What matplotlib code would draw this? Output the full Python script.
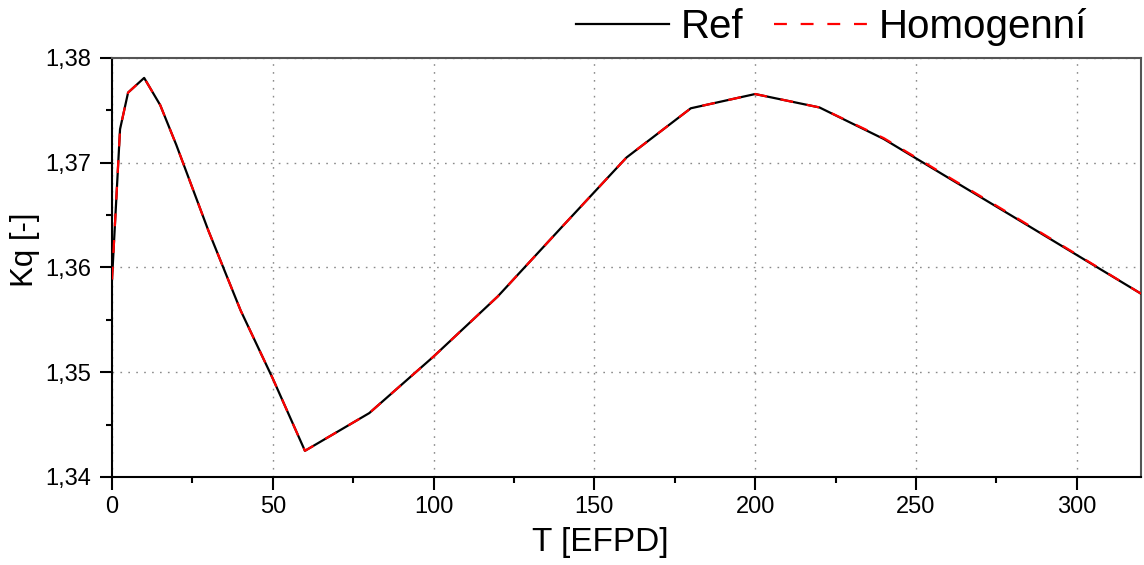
import matplotlib
matplotlib.use("Agg")
import matplotlib.pyplot as plt
from matplotlib.ticker import MultipleLocator, FixedLocator, FixedFormatter

plt.rcParams['font.family'] = ['Liberation Sans', 'DejaVu Sans']

# Data
t = [0, 2.5, 5, 10, 15, 20, 30, 40, 50, 60, 80, 100, 120, 140, 160, 180, 200, 220, 240, 260, 280, 300, 320]
kq_ref = [1.35885, 1.3732, 1.3767, 1.3781, 1.3755, 1.3717, 1.3635, 1.3559, 1.3494, 1.3425,
          1.3461, 1.3515, 1.35725, 1.3639, 1.3705, 1.3752, 1.37656, 1.37528, 1.37227,
          1.36858, 1.3649, 1.3612, 1.3575]
kq_hom = [1.35885, 1.3732, 1.3767, 1.3781, 1.3755, 1.3717, 1.3635, 1.3559, 1.3494, 1.3425,
          1.3461, 1.3515, 1.35725, 1.3639, 1.3705, 1.3752, 1.37656, 1.37528, 1.37235,
          1.36866, 1.36498, 1.36125, 1.3575]

x_ticks = [0, 50, 100, 150, 200, 250, 300]
x_tick_labels = ["0", "50", "100", "150", "200", "250", "300"]
y_ticks = [1.34, 1.35, 1.36, 1.37, 1.38]
y_tick_labels = ["1,34", "1,35", "1,36", "1,37", "1,38"]

W, H = 1144, 565
fig = plt.figure(figsize=(W / 100, H / 100), dpi=100)
ax = fig.add_axes([112 / W, 1 - 477 / H, (1141 - 112) / W, (477 - 58) / H])

ax.plot(t, kq_ref, color='black', lw=1.6, label='Ref', zorder=3)
ax.plot(t, kq_hom, color='red', lw=1.6, dashes=(5.8, 6.2), label='Homogenní', zorder=4)

ax.set_xlim(0, 320)
ax.set_ylim(1.34, 1.38)
ax.xaxis.set_major_locator(FixedLocator(x_ticks))
ax.xaxis.set_major_formatter(FixedFormatter(x_tick_labels))
ax.yaxis.set_major_locator(FixedLocator(y_ticks))
ax.yaxis.set_major_formatter(FixedFormatter(y_tick_labels))
ax.xaxis.set_minor_locator(MultipleLocator(25))
ax.yaxis.set_minor_locator(MultipleLocator(0.005))

ax.tick_params(which='major', direction='out', length=9, width=1.5, labelsize=17, pad=5,
               top=False, right=False)
ax.tick_params(which='minor', direction='out', length=4.5, width=1.5, top=False, right=False)
ax.tick_params(axis='y', which='major', pad=6)

ax.grid(True, which='major', color='#8a8a8a', lw=1.0, dashes=(1.2, 4.5))

for s in ['left', 'bottom']:
    ax.spines[s].set_linewidth(1.5)
    ax.spines[s].set_color('black')
for s in ['top', 'right']:
    ax.spines[s].set_linewidth(1.5)
    ax.spines[s].set_color('#555555')

ax.set_xlabel('T [EFPD]', fontsize=24)
ax.xaxis.set_label_coords(600 / W, 1 - 543 / H, transform=fig.transFigure)
ax.xaxis.label.set_verticalalignment('center')
ax.set_ylabel('Kq [-]', fontsize=22.5)
ax.yaxis.set_label_coords(25 / W, 1 - 249.5 / H, transform=fig.transFigure)
ax.yaxis.label.set_verticalalignment('center')

fig.legend(loc='center right', bbox_to_anchor=(1087 / W, 1 - 27 / H), ncol=2,
           frameon=False, fontsize=29, handlelength=2.33, handletextpad=0.27,
           columnspacing=0.77, borderpad=0, borderaxespad=0)

fig.savefig('out.png', dpi=100)
